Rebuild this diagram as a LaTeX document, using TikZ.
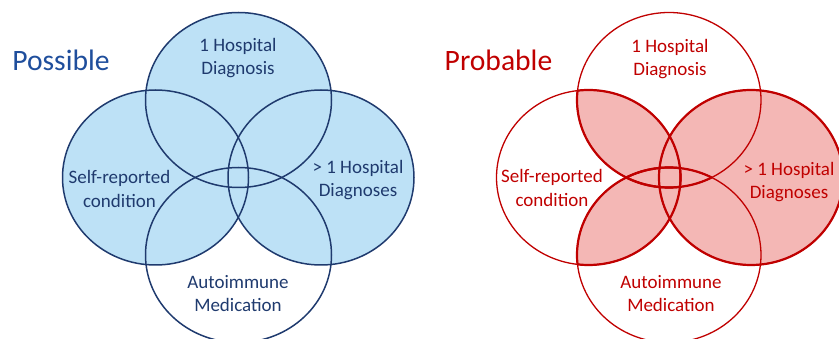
\documentclass[tikz,border=0pt]{standalone}
\usepackage{fontspec}
\setmainfont{Carlito}
\definecolor{navy}{HTML}{1F3A6E}
\definecolor{titleblue}{HTML}{1F4E9C}
\definecolor{lblue}{HTML}{BDE1F6}
\definecolor{dred}{HTML}{C00000}
\definecolor{lred}{HTML}{F4B7B5}
\tikzset{
  lbl/.style={align=center, font=\fontsize{19}{23.5}\selectfont, inner sep=0pt},
  ttl/.style={font=\fontsize{29.6}{34}\selectfont, inner sep=0pt},
  ell/.style={x radius=93pt, y radius=87.5pt},
  ellr/.style={x radius=92pt, y radius=87.5pt},
}
\begin{document}
\begin{tikzpicture}[x=1pt,y=-1pt]
\useasboundingbox (0,0) rectangle (839,339);
% ---------- Possible ----------
\coordinate (T) at (238.5,100);
\coordinate (L) at (155.5,177.5);
\coordinate (R) at (321,177.5);
\coordinate (B) at (238.5,255);
\fill[lblue] (T) ellipse [ell] (L) ellipse [ell] (R) ellipse [ell];
\begin{scope}[draw=navy, line width=1.5pt]
\draw (T) ellipse [ell];
\draw (L) ellipse [ell];
\draw (R) ellipse [ell];
\draw (B) ellipse [ell];
\end{scope}
\node[ttl, text=titleblue] (possible) at (61,60) {Possible};
\node[lbl, text=navy] (p1) at (238,58) {1 Hospital\\Diagnosis};
\node[lbl, text=navy] (p2) at (119.5,189) {Self-reported\\condition};
\node[lbl, text=navy] (p3) at (358,180) {> 1 Hospital\\Diagnoses};
\node[lbl, text=navy] (p4) at (238,293.5) {Autoimmune\\Medication};
% ---------- Probable ----------
\coordinate (T2) at (669,100);
\coordinate (L2) at (588.5,177.5);
\coordinate (R2) at (751,177.5);
\coordinate (B2) at (669,255);
\fill[lred] (R2) ellipse [ellr];
\begin{scope}\clip (T2) ellipse [ellr]; \fill[lred] (L2) ellipse [ellr]; \fill[lred] (B2) ellipse [ellr]; \end{scope}
\begin{scope}\clip (L2) ellipse [ellr]; \fill[lred] (B2) ellipse [ellr]; \end{scope}
\begin{scope}[draw=dred, line width=1.3pt]
\draw (T2) ellipse [ellr];
\draw (L2) ellipse [ellr];
\draw (R2) ellipse [ellr];
\draw (B2) ellipse [ellr];
\end{scope}
% bolder borders of shaded regions
\begin{scope}[draw=dred, line width=2.2pt]
\draw (R2) ellipse [ellr];
\begin{scope}\clip (T2) ellipse [ellr]; \draw (L2) ellipse [ellr]; \draw (B2) ellipse [ellr]; \end{scope}
\begin{scope}\clip (L2) ellipse [ellr]; \draw (T2) ellipse [ellr]; \draw (B2) ellipse [ellr]; \end{scope}
\begin{scope}\clip (B2) ellipse [ellr]; \draw (T2) ellipse [ellr]; \draw (L2) ellipse [ellr]; \end{scope}
\end{scope}
\node[ttl, text=dred] (probable) at (498.5,60) {Probable};
\node[lbl, text=dred] (q1) at (670,59) {1 Hospital\\Diagnosis};
\node[lbl, text=dred] (q2) at (552,188) {Self-reported\\condition};
\node[lbl, text=dred] (q3) at (789,182) {> 1 Hospital\\Diagnoses};
\node[lbl, text=dred] (q4) at (671,293.5) {Autoimmune\\Medication};
\end{tikzpicture}
\end{document}
